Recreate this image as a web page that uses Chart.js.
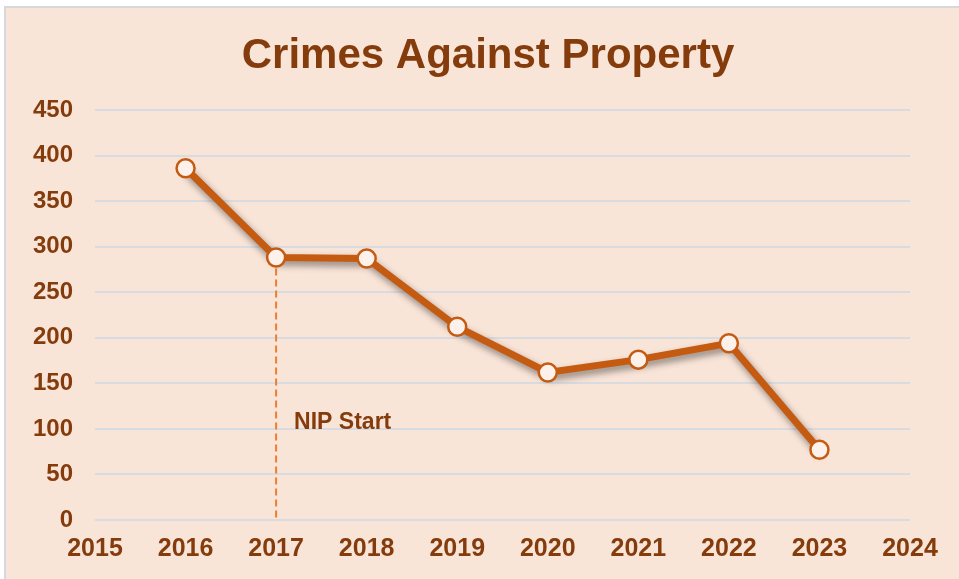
<!DOCTYPE html>
<html>
<head>
<meta charset="utf-8">
<script src="https://cdn.jsdelivr.net/npm/chart.js@4"></script>
<style>
  html, body { margin: 0; padding: 0; background: #fff; }
  #wrap { width: 959px; height: 579px; }
</style>
</head>
<body>
<div id="wrap"><canvas id="crimeChart" width="959" height="579"></canvas></div>
<script>
const years = [2016, 2017, 2018, 2019, 2020, 2021, 2022, 2023];
const crimes = [386, 288, 287, 212, 162, 176, 194, 77];
const xRange = [2015, 2024];
const yTicks = [0, 50, 100, 150, 200, 250, 300, 350, 400, 450];
const nipYear = 2017;
const nipLabel = 'NIP Start';
const chartTitle = 'Crimes Against Property';

const textColor = '#843C0C';
const lineColor = '#C55A11';
const fontFamily = '"Liberation Sans", Arial, sans-serif';

// peach panel behind everything, plus the title
const panelBg = {
    id: 'panelBg',
    beforeDraw(chart) {
        const ctx = chart.ctx;
        ctx.save();
        ctx.fillStyle = '#F9E4D8';
        ctx.fillRect(5, 7, chart.width - 5, chart.height - 7);
        ctx.strokeStyle = '#D5D8DC';
        ctx.lineWidth = 2;
        ctx.beginPath();
        ctx.moveTo(5, chart.height);
        ctx.lineTo(5, 7);
        ctx.lineTo(chart.width, 7);
        ctx.stroke();

        ctx.fillStyle = textColor;
        ctx.font = 'bold 42px ' + fontFamily;
        ctx.textAlign = 'center';
        ctx.textBaseline = 'alphabetic';
        ctx.fillText(chartTitle, 488, 68);
        ctx.restore();
    }
};

// dashed marker for the programme start
const nipMarker = {
    id: 'nipMarker',
    beforeDatasetsDraw(chart) {
        const ctx = chart.ctx;
        const x = chart.scales.x.getPixelForValue(nipYear);
        const yTop = chart.scales.y.getPixelForValue(crimes[years.indexOf(nipYear)]);
        const yBot = chart.scales.y.getPixelForValue(0);
        ctx.save();
        ctx.strokeStyle = '#ED7D31';
        ctx.lineWidth = 2;
        ctx.setLineDash([7, 4]);
        ctx.beginPath();
        ctx.moveTo(x, yTop);
        ctx.lineTo(x, yBot);
        ctx.stroke();
        ctx.setLineDash([]);
        ctx.fillStyle = textColor;
        ctx.font = 'bold 23px ' + fontFamily;
        ctx.textAlign = 'left';
        ctx.textBaseline = 'alphabetic';
        ctx.fillText(nipLabel, x + 18, chart.scales.y.getPixelForValue(100));
        ctx.restore();
    }
};

// drop shadow only under the line (dataset 0), markers stay clean
const lineShadow = {
    id: 'lineShadow',
    beforeDatasetDraw(chart, args) {
        const ctx = chart.ctx;
        ctx.save();
        if (args.index === 0) {
            ctx.shadowColor = 'rgba(0,0,0,0.45)';
            ctx.shadowBlur = 7;
            ctx.shadowOffsetX = 2;
            ctx.shadowOffsetY = 4;
        }
    },
    afterDatasetDraw(chart) {
        chart.ctx.restore();
    }
};

const points = years.map((y, i) => ({ x: y, y: crimes[i] }));

const ctx = document.getElementById('crimeChart').getContext('2d');
new Chart(ctx, {
    type: 'line',
    data: {
        datasets: [{
            label: chartTitle,
            data: points,
            borderColor: lineColor,
            borderWidth: 7,
            pointRadius: 0,
            tension: 0,
            order: 1
        }, {
            label: chartTitle + ' markers',
            data: points,
            showLine: false,
            pointRadius: 9,
            pointBorderWidth: 2.5,
            pointBackgroundColor: '#FDF2EB',
            pointBorderColor: lineColor,
            order: 0
        }]
    },
    options: {
        responsive: false,
        animation: false,
        layout: { padding: { left: 0, right: 49, top: 110, bottom: 0 } },
        plugins: {
            legend: { display: false },
            tooltip: { enabled: false },
            title: { display: false }
        },
        scales: {
            x: {
                type: 'linear',
                min: xRange[0],
                max: xRange[1],
                grid: { display: false, drawTicks: false },
                border: { display: false },
                afterFit(scale) { scale.height = 59; },
                ticks: {
                    stepSize: 1,
                    padding: 14,
                    color: textColor,
                    font: { family: fontFamily, size: 25, weight: 'bold' },
                    callback: (v) => String(v)
                }
            },
            y: {
                min: yTicks[0],
                max: yTicks[yTicks.length - 1],
                afterFit(scale) { scale.width = 95; },
                afterBuildTicks(scale) { scale.ticks = yTicks.map(v => ({ value: v })); },
                grid: { color: '#D8DBDF', lineWidth: 2, drawTicks: false },
                border: { display: false },
                ticks: {
                    padding: 22,
                    color: textColor,
                    font: { family: fontFamily, size: 24, weight: 'bold' }
                }
            }
        }
    },
    plugins: [panelBg, nipMarker, lineShadow]
});
</script>
</body>
</html>
